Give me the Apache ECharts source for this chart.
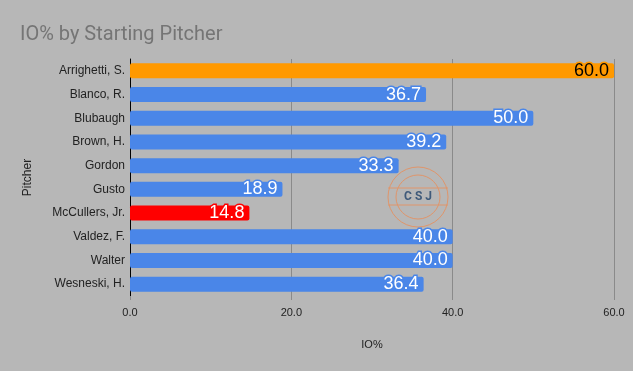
<!DOCTYPE html>
<html><head><meta charset="utf-8">
<script src="https://cdn.jsdelivr.net/npm/echarts@6/dist/echarts.min.js"></script>
<style>html,body{margin:0;padding:0;background:#b7b7b7;}#c{width:633px;height:371px;}</style>
</head><body><div id="c"></div>
<script>
const pitchers = ["Arrighetti, S.","Blanco, R.","Blubaugh","Brown, H.","Gordon","Gusto","McCullers, Jr.","Valdez, F.","Walter","Wesneski, H."];
const ioPct = [60.0, 36.7, 50.0, 39.2, 33.3, 18.9, 14.8, 40.0, 40.0, 36.4];
const barColors = ["#ff9900","#4a86e8","#4a86e8","#4a86e8","#4a86e8","#4a86e8","#ff0000","#4a86e8","#4a86e8","#4a86e8"];
const labelColors = ["#000000","#ffffff","#ffffff","#ffffff","#ffffff","#ffffff","#ffffff","#ffffff","#ffffff","#ffffff"];
const xTicks = [0, 20, 40, 60];

const chart = echarts.init(document.getElementById('c'));
chart.setOption({
  backgroundColor: '#b7b7b7',
  animation: false,
  title: {text: 'IO% by Starting Pitcher', left: 15, top: 20,
    textStyle: {color: '#757575', fontSize: 20, fontWeight: 'normal', fontFamily: 'Roboto, Arial'}},
  grid: {left: 130, right: 19, top: 59, bottom: 75},
  xAxis: {type: 'value', min: xTicks[0], max: xTicks[xTicks.length-1], interval: 20,
    name: 'IO%', nameLocation: 'middle', nameGap: 43,
    nameTextStyle: {color: '#222', fontSize: 11, fontFamily: 'Liberation Sans, Arial'},
    axisLabel: {formatter: v => v.toFixed(1), color: '#222', fontSize: 11, margin: 11, fontFamily: 'Liberation Sans, Arial'},
    axisLine: {show: false},
    axisTick: {show: true, length: 4, lineStyle: {color: '#8a8a8a'}},
    splitLine: {lineStyle: {color: '#8a8a8a', width: 1}}},
  yAxis: {type: 'category', data: pitchers, inverse: true,
    name: 'Pitcher', nameLocation: 'middle', nameGap: 96, nameRotate: 90,
    nameTextStyle: {color: '#222', fontSize: 12, fontFamily: 'Liberation Sans, Arial'},
    axisLabel: {color: '#222', fontSize: 12, margin: 5, fontFamily: 'Liberation Sans, Arial'},
    axisLine: {lineStyle: {color: '#000', width: 1}},
    axisTick: {show: false}},
  graphic: [
    {type: 'circle', shape: {cx: 418, cy: 197, r: 30}, style: {fill: 'none', stroke: '#e0956a', lineWidth: 1}, z: 0},
    {type: 'circle', shape: {cx: 418, cy: 197, r: 22}, style: {fill: 'none', stroke: '#e0956a', lineWidth: 1}, z: 0},
    {type: 'line', shape: {x1: 388, y1: 188, x2: 448, y2: 188}, style: {stroke: '#e0956a', lineWidth: 1}, z: 0},
    {type: 'line', shape: {x1: 388, y1: 205, x2: 448, y2: 205}, style: {stroke: '#e0956a', lineWidth: 1}, z: 0},
    {type: 'text', x: 418, y: 197, style: {text: 'C S J', fill: '#3f5a7a', font: 'bold 12px Roboto', align: 'center', verticalAlign: 'middle'}, z: 0}
  ],
  series: [{type: 'bar', barWidth: 15,
    itemStyle: {borderRadius: 2},
    data: ioPct.map((v, i) => ({value: v, itemStyle: {color: barColors[i]},
      label: {color: labelColors[i], textBorderColor: barColors[i]}})),
    label: {show: true, position: 'insideRight', distance: 5, fontSize: 18,
      fontFamily: 'Liberation Sans, Arial', textBorderWidth: 3, formatter: p => p.value.toFixed(1)}}]
});
</script></body></html>
